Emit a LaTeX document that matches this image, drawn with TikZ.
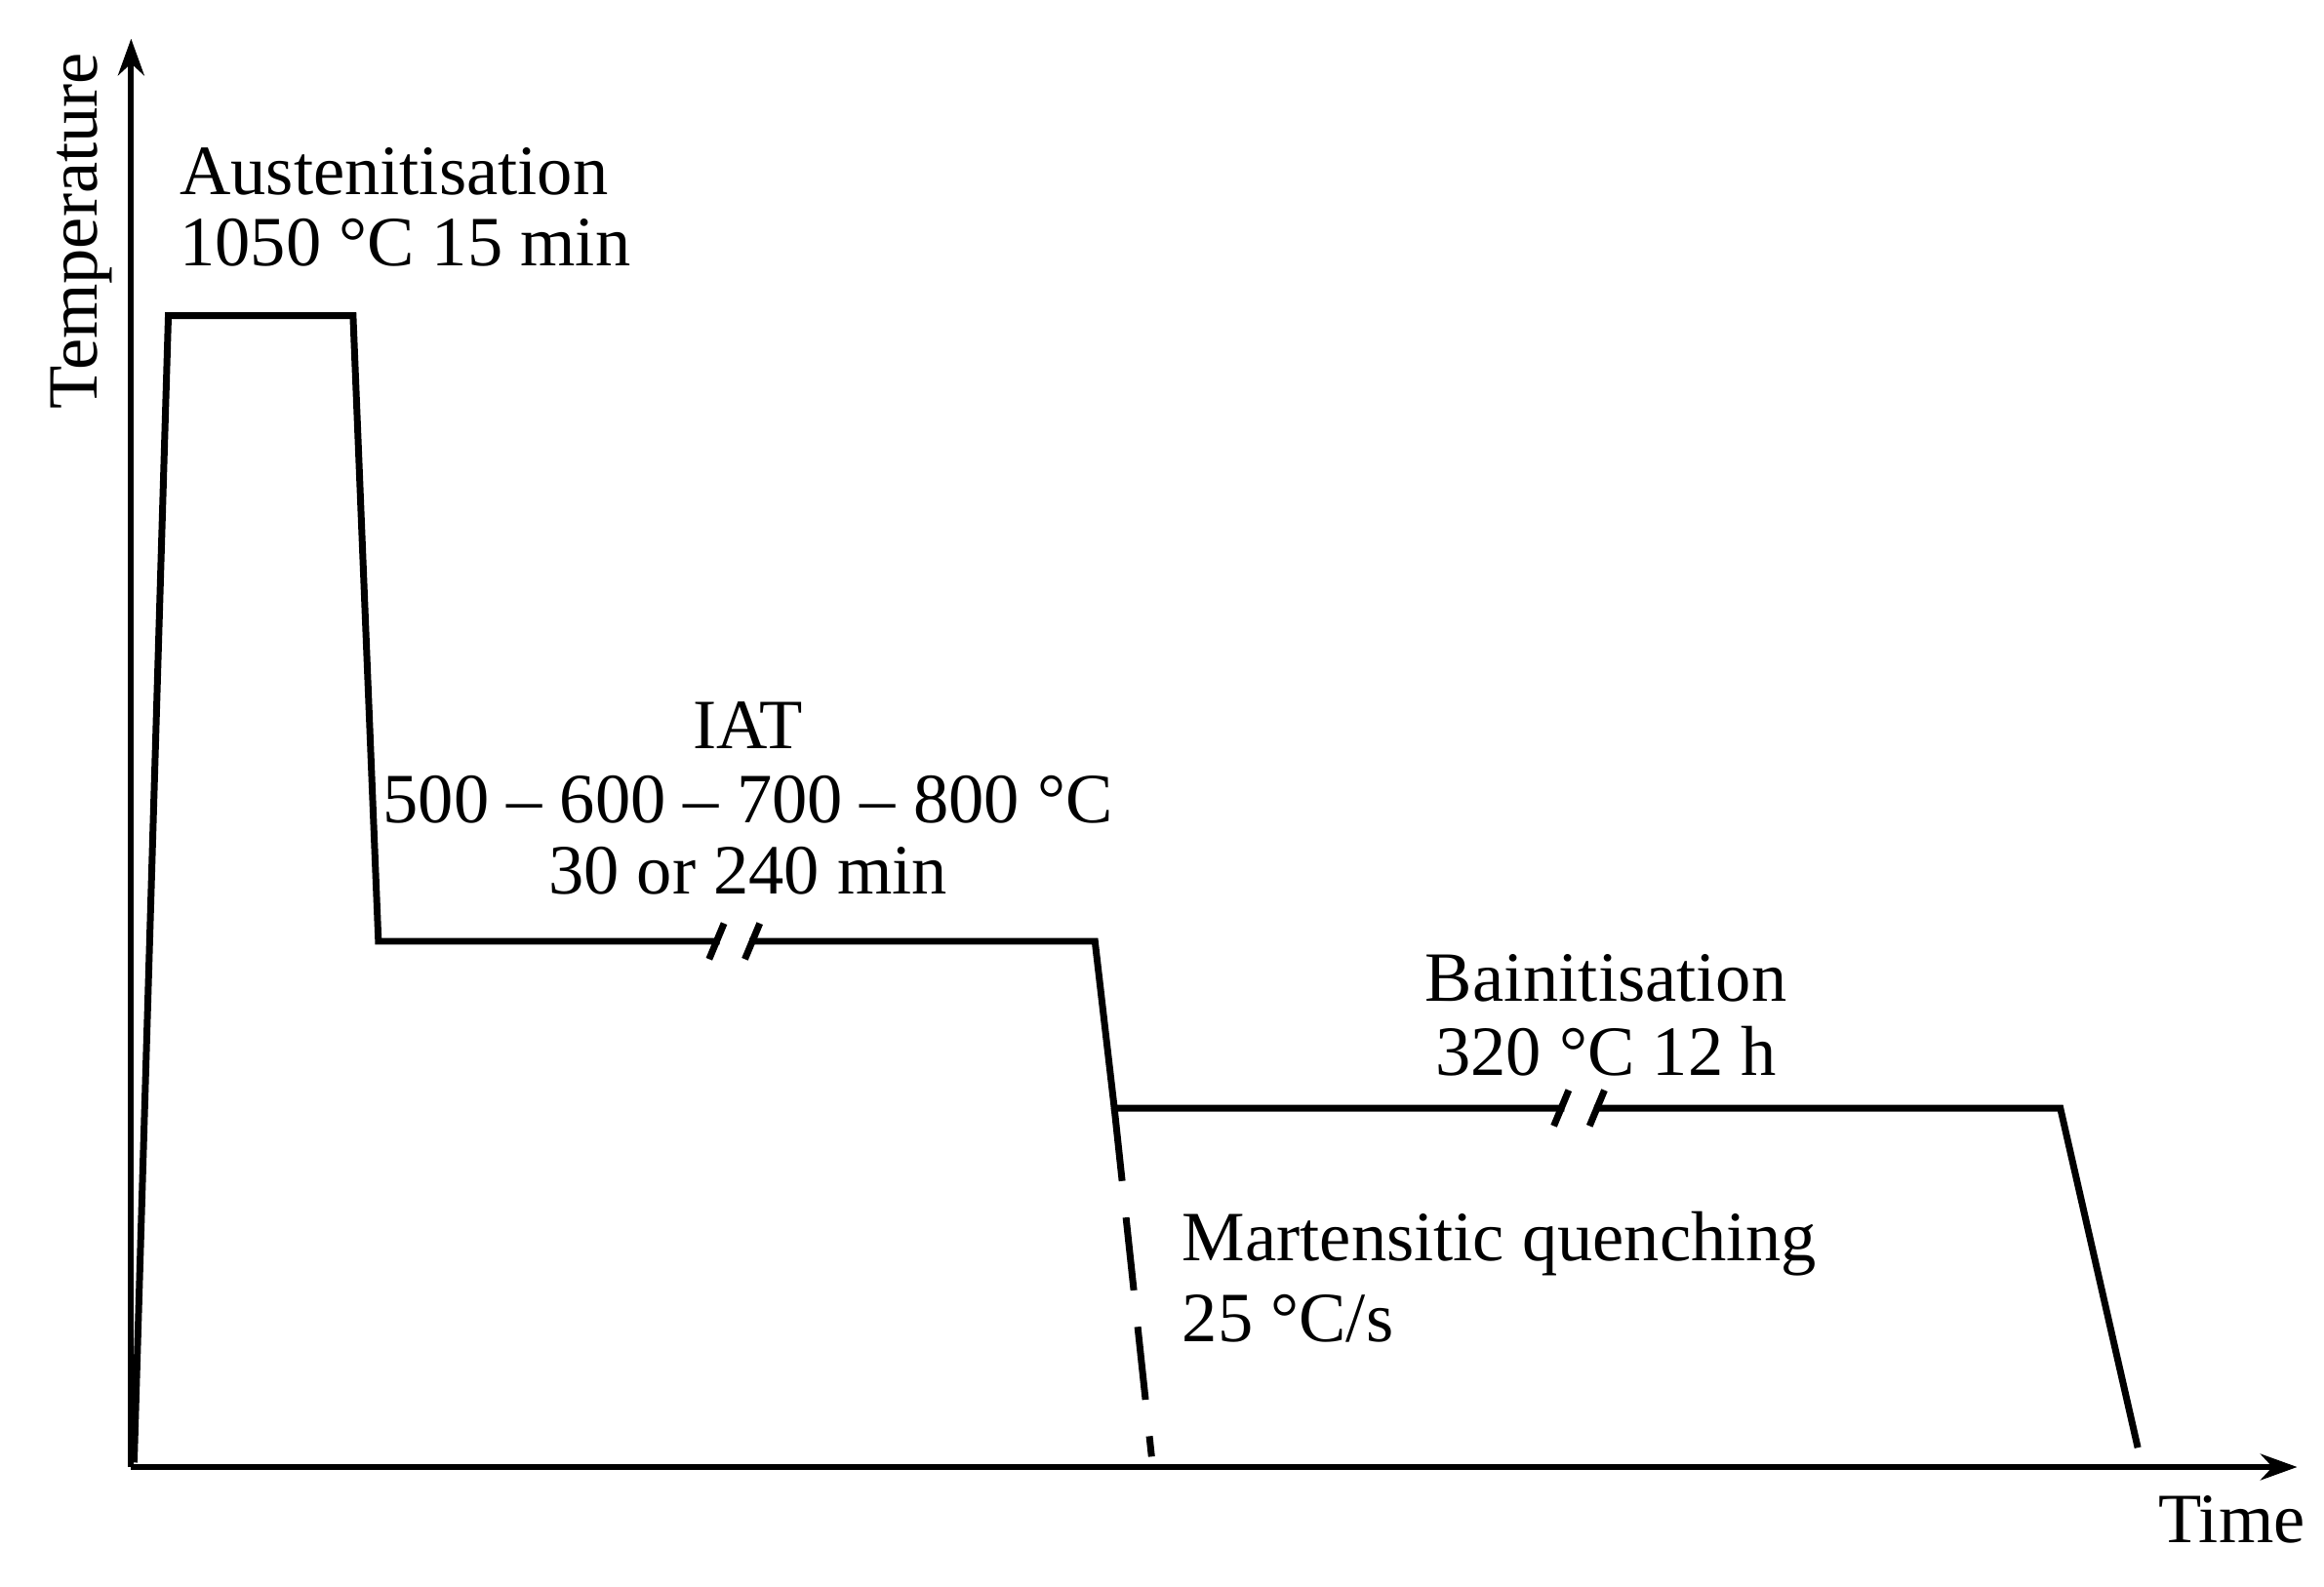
\documentclass[tikz,border=0pt]{standalone}
\usepackage{fontspec}
\setmainfont{Liberation Serif}
\usetikzlibrary{arrows.meta}
\begin{document}
\begin{tikzpicture}[x=0.01cm,y=-0.01cm,
  lbl/.style={font=\fontsize{13.5}{16}\selectfont,inner sep=0pt},
  curve/.style={line width=1.3pt,line join=miter},
  ax/.style={line width=1.1pt,-{Stealth[length=7pt,width=5pt]}}]
\useasboundingbox (0,0) rectangle (1560,1065);
\coordinate (O) at (88,985);
\coordinate (Ytop) at (88,26);
\coordinate (Xend) at (1542,985);
\draw[ax] (O) -- (Ytop);
\draw[ax] (O) -- (Xend);
\coordinate (p0) at (90,982);
\coordinate (p1) at (113,212);
\coordinate (p2) at (237,212);
\coordinate (p3) at (254,632);
\coordinate (b1) at (483,632);
\coordinate (b2) at (503,632);
\coordinate (p4) at (735,632);
\coordinate (p5) at (748,744);
\coordinate (b3) at (1050,744);
\coordinate (b4) at (1070,744);
\coordinate (p6) at (1383,744);
\coordinate (p7) at (1435,972);
\coordinate (q) at (773,978);
\draw[curve] (p0) -- (p1) -- (p2) -- (p3) -- (b1);
\draw[curve] (b2) -- (p4) -- (p5) -- (b3);
\draw[curve] (b4) -- (p6) -- (p7);
\draw[curve] ([shift={(-7,12)}]b1) -- ([shift={(3,-12)}]b1);
\draw[curve] ([shift={(-3,12)}]b2) -- ([shift={(7,-12)}]b2);
\draw[curve] ([shift={(-7,12)}]b3) -- ([shift={(3,-12)}]b3);
\draw[curve] ([shift={(-3,12)}]b4) -- ([shift={(7,-12)}]b4);
\draw[curve,dash pattern=on 14pt off 7pt] (p5) -- (q);
\node[lbl,rotate=90] (temp) at (55,155) {Temperature};
\node[lbl] (time) at (1498,1020) {Time};
\node[lbl,anchor=west] (aus1) at (120,115) {Austenitisation};
\node[lbl,anchor=west] (aus2) at (120,163) {1050 °C 15 min};
\node[lbl] (iat1) at (502,487) {IAT};
\node[lbl] (iat2) at (502,537) {500 – 600 – 700 – 800 °C};
\node[lbl] (iat3) at (502,585) {30 or 240 min};
\node[lbl] (bai1) at (1078,657) {Bainitisation};
\node[lbl] (bai2) at (1078,706) {320 °C 12 h};
\node[lbl,anchor=west] (mq1) at (793,835) {Martensitic quenching};
\node[lbl,anchor=west] (mq2) at (793,885) {25 °C/s};
\end{tikzpicture}
\end{document}
